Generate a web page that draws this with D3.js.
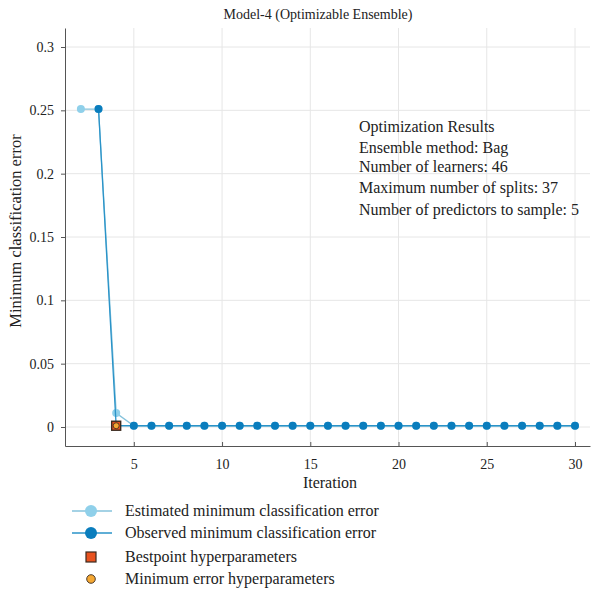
<!DOCTYPE html>
<html lang="en">
<head>
<meta charset="UTF-8">
<title>Model-4 (Optimizable Ensemble)</title>
<style>
    body { margin: 0; background: #fff; }
    svg { font-family: "Liberation Serif", "DejaVu Serif", serif; }
    .grid line { stroke: #e6e6e6; stroke-width: 1; }
    .axis path, .axis line { stroke: #555; }
    .axis text { font-family: "Liberation Serif", serif; font-size: 14px; fill: #222; }
</style>
</head>
<body>
<svg id="chart" width="591" height="591"></svg>
<script src="https://d3js.org/d3.v7.min.js"></script>
<script>
    // iterations 1..30
    const iterations = d3.range(1, 31);
    const estimated = [null, 0.251, 0.251, 0.011, 0.001, 0.001, 0.001, 0.001, 0.001, 0.001,
        0.001, 0.001, 0.001, 0.001, 0.001, 0.001, 0.001, 0.001, 0.001, 0.001,
        0.001, 0.001, 0.001, 0.001, 0.001, 0.001, 0.001, 0.001, 0.001, 0.001];
    const observed = [null, null, 0.251, 0.001, 0.001, 0.001, 0.001, 0.001, 0.001, 0.001,
        0.001, 0.001, 0.001, 0.001, 0.001, 0.001, 0.001, 0.001, 0.001, 0.001,
        0.001, 0.001, 0.001, 0.001, 0.001, 0.001, 0.001, 0.001, 0.001, 0.001];
    const bestPoint = { iter: 4, value: 0.001 };
    const minErrorPoint = { iter: 4, value: 0.001 };

    const xTicks = [5, 10, 15, 20, 25, 30];
    const yTicks = [0, 0.05, 0.1, 0.15, 0.2, 0.25, 0.3];

    const resultLines = [
        'Optimization Results',
        'Ensemble method: Bag',
        'Number of learners: 46',
        'Maximum number of splits: 37',
        'Number of predictors to sample: 5'
    ];
    const legendItems = [
        { label: 'Estimated minimum classification error', type: 'est' },
        { label: 'Observed minimum classification error', type: 'obs' },
        { label: 'Bestpoint hyperparameters', type: 'best' },
        { label: 'Minimum error hyperparameters', type: 'min' }
    ];

    const colEst = '#8fd0ea';
    const colEstLine = '#86c3dc';
    const colObs = '#0a7dbd';
    const colObsLine = '#2a93c8';

    const margin = { top: 28, right: 1, bottom: 145, left: 65 };
    const width = 591 - margin.left - margin.right;
    const height = 591 - margin.top - margin.bottom;

    const svg = d3.select('#chart');
    const g = svg.append('g').attr('transform', `translate(${margin.left},${margin.top})`);

    const x = d3.scaleLinear().domain([1.1, 30.85]).range([0, width]);
    const y = d3.scaleLinear().domain([-0.015, 0.315]).range([height, 0]);

    // grid
    g.append('g').attr('class', 'grid')
        .selectAll('line.v').data(xTicks).enter().append('line')
        .attr('x1', d => x(d)).attr('x2', d => x(d))
        .attr('y1', 0).attr('y2', height);
    g.append('g').attr('class', 'grid')
        .selectAll('line.h').data(yTicks).enter().append('line')
        .attr('x1', 0).attr('x2', width)
        .attr('y1', d => y(d)).attr('y2', d => y(d));

    // axes
    g.append('g').attr('class', 'axis')
        .attr('transform', `translate(0,${height})`)
        .call(d3.axisBottom(x).tickValues(xTicks).tickSize(-4).tickPadding(10).tickSizeOuter(0))
        .call(a => a.selectAll('text').attr('dy', '0.9em'));
    g.append('g').attr('class', 'axis')
        .call(d3.axisLeft(y).tickValues(yTicks).tickSize(4).tickPadding(7).tickSizeOuter(0)
            .tickFormat(d => d === 0 ? '0' : d3.format('')(+d.toFixed(2))));

    // title and labels
    svg.append('text').attr('x', 318).attr('y', 19).attr('text-anchor', 'middle')
        .attr('font-size', 14).attr('fill', '#222').text('Model-4 (Optimizable Ensemble)');
    svg.append('text').attr('x', 330).attr('y', 488).attr('text-anchor', 'middle')
        .attr('font-size', 16).attr('fill', '#222').text('Iteration');
    svg.append('text').attr('transform', 'translate(21,231) rotate(-90)')
        .attr('text-anchor', 'middle').attr('font-size', 16.5).attr('fill', '#222')
        .text('Minimum classification error');

    const estData = iterations.map((it, i) => ({ it, v: estimated[i] })).filter(d => d.v !== null);
    const obsData = iterations.map((it, i) => ({ it, v: observed[i] })).filter(d => d.v !== null);
    const line = d3.line().x(d => x(d.it)).y(d => y(d.v));

    g.append('path').datum(estData).attr('d', line)
        .attr('fill', 'none').attr('stroke', colEstLine).attr('stroke-width', 1.3);
    g.selectAll('.est').data(estData).enter().append('circle')
        .attr('cx', d => x(d.it)).attr('cy', d => y(d.v)).attr('r', 4).attr('fill', colEst);

    g.append('path').datum(obsData).attr('d', line)
        .attr('fill', 'none').attr('stroke', colObsLine).attr('stroke-width', 1.3);
    g.selectAll('.obs').data(obsData).enter().append('circle')
        .attr('cx', d => x(d.it)).attr('cy', d => y(d.v)).attr('r', 4).attr('fill', colObs);

    g.append('rect')
        .attr('x', x(bestPoint.iter) - 4.5).attr('y', y(bestPoint.value) - 4.5)
        .attr('width', 9).attr('height', 9)
        .attr('fill', '#e8521f').attr('stroke', '#3a2a20').attr('stroke-width', 1.4);
    g.append('circle')
        .attr('cx', x(minErrorPoint.iter)).attr('cy', y(minErrorPoint.value)).attr('r', 3)
        .attr('fill', '#f5a833').attr('stroke', '#3a2a20').attr('stroke-width', 0.8);

    // optimization results text
    const resY = [132, 153, 172, 193, 215];
    svg.append('g').selectAll('text').data(resultLines).enter().append('text')
        .attr('x', 359).attr('y', (d, i) => resY[i])
        .attr('font-size', 16).attr('fill', '#222').text(d => d);

    // legend
    const legY = [511, 533, 557, 579];
    const leg = svg.append('g');
    legendItems.forEach((item, i) => {
        const yy = legY[i];
        const row = leg.append('g');
        if (item.type === 'est' || item.type === 'obs') {
            row.append('line').attr('x1', 72).attr('x2', 112).attr('y1', yy).attr('y2', yy)
                .attr('stroke', item.type === 'est' ? colEstLine : colObsLine).attr('stroke-width', 1.3);
            row.append('circle').attr('cx', 91).attr('cy', yy).attr('r', 6)
                .attr('fill', item.type === 'est' ? colEst : colObs);
        } else if (item.type === 'best') {
            row.append('rect').attr('x', 86).attr('y', yy - 5).attr('width', 10).attr('height', 10)
                .attr('fill', '#e8521f').attr('stroke', '#3a2a20').attr('stroke-width', 1.2);
        } else {
            row.append('circle').attr('cx', 91).attr('cy', yy).attr('r', 4.3)
                .attr('fill', '#f5a833').attr('stroke', '#3a2a20').attr('stroke-width', 0.9);
        }
        row.append('text').attr('x', 125).attr('y', yy + 4.5)
            .attr('font-size', 16).attr('fill', '#222').text(item.label);
    });
</script>
</body>
</html>
